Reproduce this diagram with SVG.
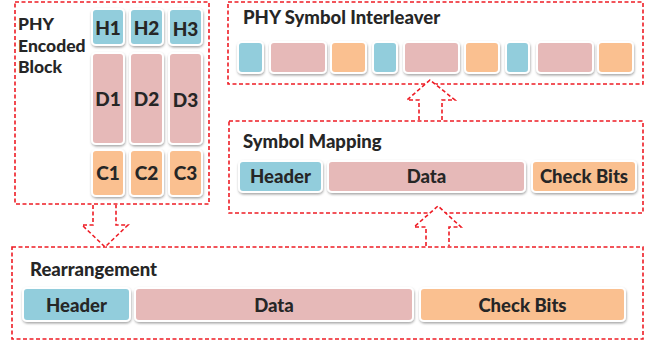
<svg xmlns="http://www.w3.org/2000/svg" width="654" height="347" viewBox="0 0 654 347">
  <defs>
    <filter id="sh" x="-20%" y="-20%" width="140%" height="150%">
      <feDropShadow dx="0.5" dy="1.5" stdDeviation="1.2" flood-color="#000" flood-opacity="0.35"/>
    </filter>
  </defs>
  <style>
    .frame { fill: none; stroke: #EE1C25; stroke-width: 1.6; stroke-dasharray: 4 2.5; }
    .arrow { fill: #fff; stroke: #EE1C25; stroke-width: 1.6; stroke-dasharray: 4 2.5; }
    .blk { stroke: #fff; stroke-width: 2; filter: url(#sh); }
    .hd { fill: #92CDDC; }
    .dt { fill: #E6B9B8; }
    .ck { fill: #FAC090; }
    text { font-family: Lato, "Open Sans", "Liberation Sans", sans-serif; font-weight: 900; fill: #262626; }
    .title { font-size: 18.5px; }
    .side { font-size: 17.5px; }
    .lbl { font-size: 18.5px; text-anchor: middle; }
    .cell { font-size: 19px; text-anchor: middle; }
  </style>

  <!-- PHY encoded block -->
  <g id="encoded-block">
    <rect class="frame" x="15" y="2" width="194" height="202"/>
    <text class="side" x="18" y="30">PHY</text>
    <text class="side" x="18" y="52">Encoded</text>
    <text class="side" x="18" y="73">Block</text>
    <rect class="blk hd" x="92" y="9" width="32" height="36" rx="4"/>
    <rect class="blk hd" x="130" y="9" width="33" height="36" rx="4"/>
    <rect class="blk hd" x="169" y="9" width="33" height="36" rx="4"/>
    <rect class="blk dt" x="92" y="53" width="32" height="91" rx="4"/>
    <rect class="blk dt" x="130" y="53" width="33" height="91" rx="4"/>
    <rect class="blk dt" x="169" y="53" width="33" height="91" rx="4"/>
    <rect class="blk ck" x="92" y="150" width="32" height="46" rx="4"/>
    <rect class="blk ck" x="130" y="150" width="33" height="46" rx="4"/>
    <rect class="blk ck" x="169" y="150" width="33" height="46" rx="4"/>
    <text class="cell" x="108" y="35">H1</text>
    <text class="cell" x="146.5" y="35">H2</text>
    <text class="cell" x="185.5" y="36">H3</text>
    <text class="cell" x="108" y="106">D1</text>
    <text class="cell" x="146.5" y="106">D2</text>
    <text class="cell" x="185.5" y="107">D3</text>
    <text class="cell" x="108" y="180">C1</text>
    <text class="cell" x="146.5" y="180">C2</text>
    <text class="cell" x="185.5" y="180">C3</text>
  </g>

  <!-- PHY symbol interleaver -->
  <g id="interleaver">
    <rect class="frame" x="228" y="2" width="415" height="82"/>
    <text class="title" x="243" y="24">PHY Symbol Interleaver</text>
    <rect class="blk hd" x="238" y="42" width="25" height="31" rx="4"/>
    <rect class="blk dt" x="270" y="42" width="56" height="31" rx="4"/>
    <rect class="blk ck" x="331" y="42" width="35" height="31" rx="4"/>
    <rect class="blk hd" x="373" y="42" width="24" height="31" rx="4"/>
    <rect class="blk dt" x="404" y="42" width="55" height="31" rx="4"/>
    <rect class="blk ck" x="465" y="42" width="34" height="31" rx="4"/>
    <rect class="blk hd" x="506" y="42" width="23" height="31" rx="4"/>
    <rect class="blk dt" x="537" y="42" width="56" height="31" rx="4"/>
    <rect class="blk ck" x="598" y="42" width="35" height="31" rx="4"/>
  </g>

  <!-- Symbol mapping -->
  <g id="symbol-mapping">
    <rect class="frame" x="229" y="121" width="414" height="92"/>
    <text class="title" x="243" y="148">Symbol Mapping</text>
    <rect class="blk hd" x="239" y="161" width="83" height="31" rx="4"/>
    <rect class="blk dt" x="328" y="161" width="197" height="31" rx="4"/>
    <rect class="blk ck" x="532" y="161" width="104" height="31" rx="4"/>
    <text class="lbl" x="280.5" y="183">Header</text>
    <text class="lbl" x="426.5" y="183">Data</text>
    <text class="lbl" x="584" y="183">Check Bits</text>
  </g>

  <!-- Rearrangement -->
  <g id="rearrangement">
    <rect class="frame" x="12" y="247" width="631" height="92"/>
    <text class="title" x="30" y="276">Rearrangement</text>
    <rect class="blk hd" x="23" y="288" width="107" height="33" rx="4"/>
    <rect class="blk dt" x="135" y="288" width="278" height="33" rx="4"/>
    <rect class="blk ck" x="420" y="288" width="205" height="33" rx="4"/>
    <text class="lbl" x="76.5" y="312">Header</text>
    <text class="lbl" x="274" y="312">Data</text>
    <text class="lbl" x="522.5" y="312">Check Bits</text>
  </g>

  <!-- Block arrows between stages -->
  <g id="connectors">
    <path class="arrow" d="M93 205 V225 H82 L105 247 L128 225 H116 V205"/>
    <path class="arrow" d="M426 246 V227 H414 L438 206 L461 227 H449 V246"/>
    <path class="arrow" d="M419 120 V100 H407 L430 80 L455 100 H442 V120"/>
  </g>
</svg>
